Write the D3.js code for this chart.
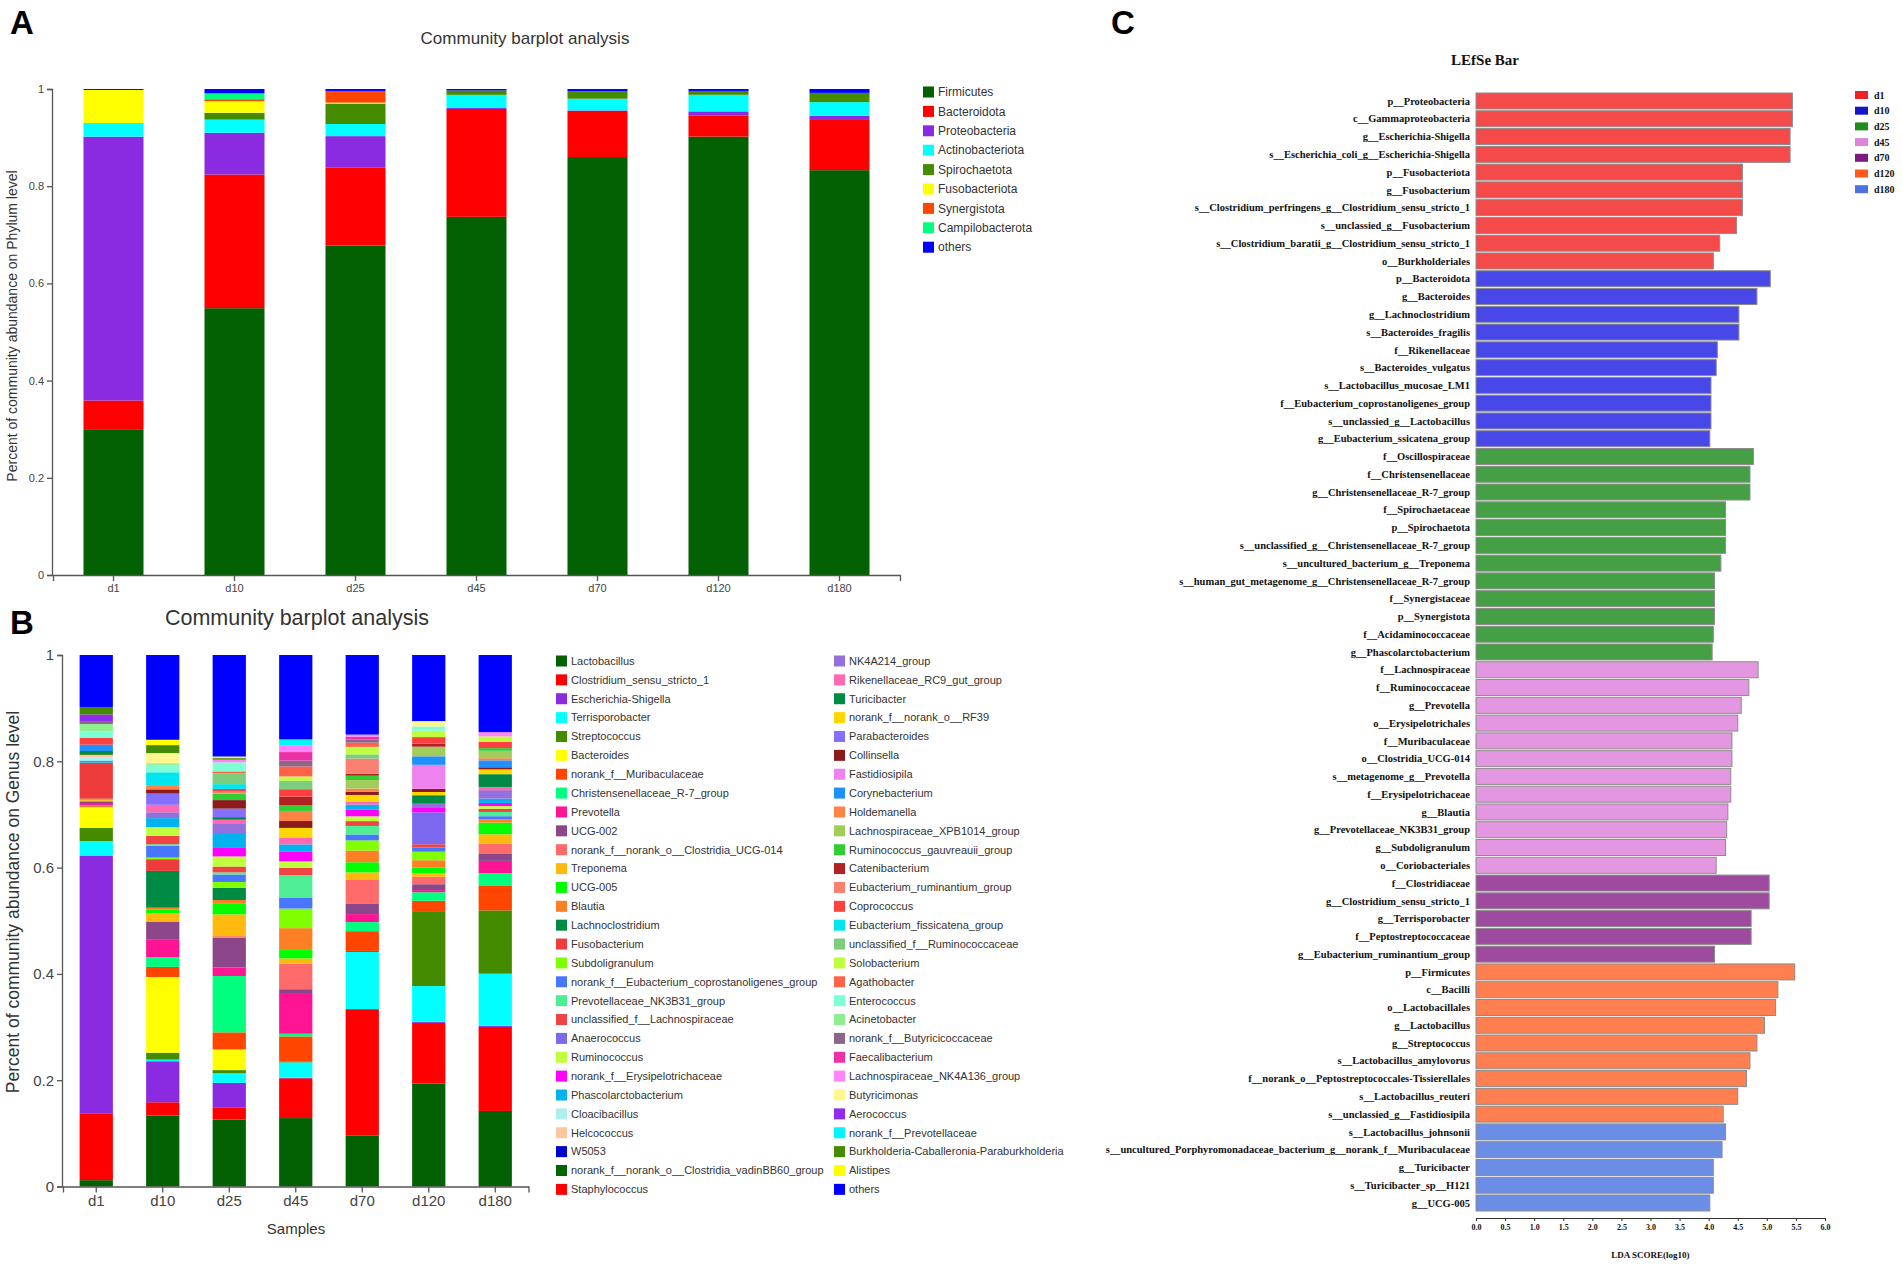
<!DOCTYPE html>
<html>
<head>
<meta charset="utf-8">
<script src="https://cdn.jsdelivr.net/npm/d3@7"></script>
<style>
  body { margin: 0; background: #fff; }
  svg { display: block; }
  .sans { font-family: "Liberation Sans", Arial, sans-serif; }
  .serif { font-family: "Liberation Serif", "Times New Roman", serif; font-weight: bold; }
</style>
</head>
<body>
<div id="chart"></div>
<script>
// ---------- shared ----------
const samples = ["d1", "d10", "d25", "d45", "d70", "d120", "d180"];

// ---------- panel A: phylum level ----------
const phyla = ["Firmicutes", "Bacteroidota", "Proteobacteria", "Actinobacteriota", "Spirochaetota",
  "Fusobacteriota", "Synergistota", "Campilobacterota", "others"];
const phylumColors = ["#036103", "#ff0000", "#8a2be2", "#00ffff", "#458b00",
  "#ffff00", "#ff4500", "#00ff7f", "#0000ff"];
const phylumD1   = [0.300, 0.059, 0.543, 0.028, 0.000, 0.068, 0.000, 0.000, 0.002];
const phylumD10  = [0.549, 0.275, 0.086, 0.027, 0.014, 0.024, 0.004, 0.012, 0.009];
const phylumD25  = [0.678, 0.160, 0.065, 0.025, 0.042, 0.002, 0.024, 0.000, 0.004];
const phylumD45  = [0.737, 0.222, 0.002, 0.027, 0.009, 0.000, 0.000, 0.000, 0.003];
const phylumD70  = [0.860, 0.095, 0.001, 0.024, 0.015, 0.000, 0.000, 0.000, 0.005];
const phylumD120 = [0.902, 0.043, 0.009, 0.034, 0.008, 0.000, 0.000, 0.000, 0.004];
const phylumD180 = [0.833, 0.105, 0.007, 0.028, 0.019, 0.000, 0.000, 0.000, 0.008];
const phylumValues = [phylumD1, phylumD10, phylumD25, phylumD45, phylumD70, phylumD120, phylumD180];

// ---------- panel B: genus level ----------
const genera = ["Lactobacillus", "Clostridium_sensu_stricto_1", "Escherichia-Shigella", "Terrisporobacter",
  "Streptococcus", "Bacteroides", "norank_f__Muribaculaceae", "Christensenellaceae_R-7_group", "Prevotella",
  "UCG-002", "norank_f__norank_o__Clostridia_UCG-014", "Treponema", "UCG-005", "Blautia", "Lachnoclostridium",
  "Fusobacterium", "Subdoligranulum", "norank_f__Eubacterium_coprostanoligenes_group", "Prevotellaceae_NK3B31_group",
  "unclassified_f__Lachnospiraceae", "Anaerococcus", "Ruminococcus", "norank_f__Erysipelotrichaceae",
  "Phascolarctobacterium", "Cloacibacillus", "Helcococcus", "W5053", "norank_f__norank_o__Clostridia_vadinBB60_group",
  "Staphylococcus",
  "NK4A214_group", "Rikenellaceae_RC9_gut_group", "Turicibacter", "norank_f__norank_o__RF39", "Parabacteroides",
  "Collinsella", "Fastidiosipila", "Corynebacterium", "Holdemanella", "Lachnospiraceae_XPB1014_group",
  "Ruminococcus_gauvreauii_group", "Catenibacterium", "Eubacterium_ruminantium_group", "Coprococcus",
  "Eubacterium_fissicatena_group", "unclassified_f__Ruminococcaceae", "Solobacterium", "Agathobacter",
  "Enterococcus", "Acinetobacter", "norank_f__Butyricicoccaceae", "Faecalibacterium", "Lachnospiraceae_NK4A136_group",
  "Butyricimonas", "Aerococcus", "norank_f__Prevotellaceae", "Burkholderia-Caballeronia-Paraburkholderia",
  "Alistipes", "others"];
const genusColors = ["#036103", "#ff0000", "#8a2be2", "#00ffff", "#458b00", "#ffff00", "#ff4500", "#00ff7f",
  "#ff1493", "#8b4789", "#ff6a6a", "#ffb90f", "#00ff00", "#ff7f24", "#008b45", "#ee3b3b", "#7fff00", "#4876ff",
  "#4eee94", "#f04444", "#7b68ee", "#c0ff3e", "#ff00ff", "#00b2ee", "#aeeeee", "#ffc59e", "#0000cd", "#006400",
  "#ff0000",
  "#9370db", "#ff69b4", "#008b45", "#ffd700", "#8470ff", "#8b1a1a", "#ee82ee", "#1e90ff", "#ff8247", "#a2cd5a",
  "#32cd32", "#b22222", "#fa8072", "#ff4040", "#00e5ee", "#7ccd7c", "#bfff3f", "#ff6347", "#7fffd4", "#90ee90",
  "#8b668b", "#ee30a7", "#ff83fa", "#fff68f", "#912cee", "#00f5ff", "#458b00", "#ffff00", "#0000ff"];

//                 0      1      2      3      4      5      6      7      8      9
const genusD1   = [0.012, 0.126, 0.486, 0.027, 0.025, 0.039, 0.002, 0.002, 0.004, 0.002,
                   0.002, 0.002, 0.002, 0.000, 0.000, 0.068, 0.000, 0.000, 0.000, 0.000,
                   0.000, 0.000, 0.000, 0.004, 0.006, 0.005, 0.000, 0.003, 0.000, 0.000,
                   0.000, 0.004, 0.000, 0.000, 0.000, 0.000, 0.012, 0.000, 0.000, 0.000,
                   0.000, 0.000, 0.013, 0.000, 0.000, 0.000, 0.000, 0.012, 0.014, 0.004,
                   0.000, 0.000, 0.000, 0.014, 0.000, 0.014, 0.000, 0.098];
const genusD10  = [0.133, 0.025, 0.077, 0.003, 0.013, 0.142, 0.019, 0.018, 0.034, 0.033,
                   0.000, 0.015, 0.008, 0.003, 0.069, 0.022, 0.003, 0.022, 0.003, 0.016,
                   0.000, 0.016, 0.000, 0.017, 0.000, 0.000, 0.000, 0.000, 0.000, 0.011,
                   0.014, 0.000, 0.000, 0.021, 0.008, 0.000, 0.000, 0.008, 0.000, 0.000,
                   0.000, 0.000, 0.000, 0.024, 0.000, 0.000, 0.000, 0.014, 0.003, 0.000,
                   0.000, 0.000, 0.019, 0.000, 0.000, 0.015, 0.010, 0.159];
const genusD25  = [0.126, 0.023, 0.046, 0.018, 0.006, 0.039, 0.032, 0.106, 0.016, 0.056,
                   0.003, 0.041, 0.021, 0.006, 0.023, 0.000, 0.011, 0.014, 0.004, 0.011,
                   0.000, 0.019, 0.016, 0.028, 0.000, 0.000, 0.000, 0.000, 0.000, 0.017,
                   0.008, 0.005, 0.000, 0.016, 0.016, 0.000, 0.000, 0.000, 0.000, 0.012,
                   0.000, 0.004, 0.005, 0.009, 0.020, 0.000, 0.004, 0.017, 0.000, 0.000,
                   0.000, 0.005, 0.000, 0.000, 0.000, 0.003, 0.003, 0.191];
const genusD45  = [0.129, 0.075, 0.001, 0.029, 0.002, 0.000, 0.047, 0.005, 0.075, 0.009,
                   0.048, 0.010, 0.016, 0.041, 0.000, 0.000, 0.037, 0.021, 0.042, 0.014,
                   0.000, 0.012, 0.018, 0.014, 0.000, 0.000, 0.000, 0.000, 0.000, 0.000,
                   0.013, 0.000, 0.018, 0.000, 0.013, 0.000, 0.000, 0.019, 0.000, 0.011,
                   0.016, 0.000, 0.014, 0.000, 0.016, 0.008, 0.019, 0.000, 0.000, 0.011,
                   0.016, 0.013, 0.000, 0.000, 0.011, 0.000, 0.000, 0.159];
const genusD70  = [0.095, 0.237, 0.000, 0.107, 0.002, 0.000, 0.037, 0.017, 0.015, 0.020,
                   0.045, 0.013, 0.019, 0.022, 0.000, 0.000, 0.019, 0.011, 0.016, 0.009,
                   0.000, 0.009, 0.013, 0.009, 0.000, 0.000, 0.000, 0.000, 0.000, 0.000,
                   0.005, 0.000, 0.013, 0.000, 0.006, 0.000, 0.000, 0.006, 0.016, 0.008,
                   0.004, 0.028, 0.000, 0.000, 0.008, 0.014, 0.008, 0.000, 0.000, 0.006,
                   0.005, 0.004, 0.000, 0.000, 0.000, 0.000, 0.000, 0.149];
const genusD120 = [0.193, 0.114, 0.002, 0.067, 0.139, 0.000, 0.021, 0.016, 0.004, 0.011,
                   0.014, 0.006, 0.011, 0.014, 0.000, 0.000, 0.016, 0.008, 0.000, 0.006,
                   0.060, 0.000, 0.008, 0.000, 0.000, 0.000, 0.000, 0.000, 0.000, 0.008,
                   0.000, 0.016, 0.006, 0.000, 0.006, 0.045, 0.016, 0.000, 0.018, 0.000,
                   0.006, 0.000, 0.012, 0.000, 0.000, 0.012, 0.000, 0.008, 0.000, 0.000,
                   0.000, 0.000, 0.010, 0.000, 0.000, 0.000, 0.000, 0.124];
const genusD180 = [0.142, 0.158, 0.002, 0.098, 0.119, 0.000, 0.047, 0.023, 0.023, 0.013,
                   0.019, 0.018, 0.022, 0.006, 0.000, 0.000, 0.000, 0.006, 0.008, 0.006,
                   0.000, 0.005, 0.006, 0.008, 0.000, 0.000, 0.000, 0.000, 0.000, 0.016,
                   0.006, 0.024, 0.009, 0.000, 0.004, 0.000, 0.013, 0.004, 0.014, 0.005,
                   0.000, 0.000, 0.012, 0.000, 0.000, 0.010, 0.000, 0.000, 0.000, 0.000,
                   0.000, 0.008, 0.000, 0.000, 0.000, 0.000, 0.000, 0.145];
const genusValues = [genusD1, genusD10, genusD25, genusD45, genusD70, genusD120, genusD180];

// ---------- panel C: LEfSe ----------
const lefseNames = [
  "p__Proteobacteria", "c__Gammaproteobacteria", "g__Escherichia-Shigella", "s__Escherichia_coli_g__Escherichia-Shigella",
  "p__Fusobacteriota", "g__Fusobacterium", "s__Clostridium_perfringens_g__Clostridium_sensu_stricto_1",
  "s__unclassied_g__Fusobacterium", "s__Clostridium_baratii_g__Clostridium_sensu_stricto_1", "o__Burkholderiales",
  "p__Bacteroidota", "g__Bacteroides", "g__Lachnoclostridium", "s__Bacteroides_fragilis", "f__Rikenellaceae",
  "s__Bacteroides_vulgatus", "s__Lactobacillus_mucosae_LM1", "f__Eubacterium_coprostanoligenes_group",
  "s__unclassied_g__Lactobacillus", "g__Eubacterium_ssicatena_group",
  "f__Oscillospiraceae", "f__Christensenellaceae", "g__Christensenellaceae_R-7_group", "f__Spirochaetaceae",
  "p__Spirochaetota", "s__unclassified_g__Christensenellaceae_R-7_group", "s__uncultured_bacterium_g__Treponema",
  "s__human_gut_metagenome_g__Christensenellaceae_R-7_group", "f__Synergistaceae", "p__Synergistota",
  "f__Acidaminococcaceae", "g__Phascolarctobacterium",
  "f__Lachnospiraceae", "f__Ruminococcaceae", "g__Prevotella", "o__Erysipelotrichales", "f__Muribaculaceae",
  "o__Clostridia_UCG-014", "s__metagenome_g__Prevotella", "f__Erysipelotrichaceae", "g__Blautia",
  "g__Prevotellaceae_NK3B31_group", "g__Subdoligranulum", "o__Coriobacteriales",
  "f__Clostridiaceae", "g__Clostridium_sensu_stricto_1", "g__Terrisporobacter", "f__Peptostreptococcaceae",
  "g__Eubacterium_ruminantium_group",
  "p__Firmicutes", "c__Bacilli", "o__Lactobacillales", "g__Lactobacillus", "g__Streptococcus",
  "s__Lactobacillus_amylovorus", "f__norank_o__Peptostreptococcales-Tissierellales", "s__Lactobacillus_reuteri",
  "s__unclassied_g__Fastidiosipila",
  "s__Lactobacillus_johnsonii", "s__uncultured_Porphyromonadaceae_bacterium_g__norank_f__Muribaculaceae",
  "g__Turicibacter", "s__Turicibacter_sp__H121", "g__UCG-005"];
const lefseScores = [
  5.44, 5.44, 5.40, 5.40, 4.58, 4.58, 4.58, 4.48, 4.19, 4.08,
  5.06, 4.83, 4.52, 4.52, 4.15, 4.13, 4.04, 4.04, 4.04, 4.02,
  4.77, 4.71, 4.71, 4.29, 4.29, 4.29, 4.21, 4.10, 4.10, 4.10, 4.08, 4.06,
  4.85, 4.69, 4.56, 4.50, 4.40, 4.40, 4.38, 4.38, 4.33, 4.31, 4.29, 4.13,
  5.04, 5.04, 4.73, 4.73, 4.10,
  5.48, 5.19, 5.15, 4.96, 4.83, 4.71, 4.65, 4.50, 4.25,
  4.29, 4.23, 4.08, 4.08, 4.02];
const lefseGroupSizes = [10, 10, 12, 12, 5, 9, 5];
const lefseBarColors = ["#f44a4a", "#4848e8", "#45a045", "#e397e0", "#9e4a9e", "#ff7f50", "#6b8de6"];
const lefseLegendColors = ["#ee2222", "#1515c8", "#1f8c1f", "#dc85dc", "#7d1a7d", "#ff5a1a", "#4a72e0"];

// ---------- svg ----------
const W = 1902, H = 1269;
const svg = d3.select("#chart").append("svg").attr("width", W).attr("height", H);

function toRows(values, keys) {
  return samples.map((s, i) => {
    const r = { sample: s };
    keys.forEach((k, j) => { r[k] = values[i][j]; });
    return r;
  });
}

function stackedPanel(opt) {
  const g = svg.append("g").attr("class", "sans");
  const rows = toRows(opt.values, opt.keys);
  const series = d3.stack().keys(opt.keys).offset(d3.stackOffsetExpand)(rows);
  const color = d3.scaleOrdinal().domain(opt.keys).range(opt.colors);

  const x = d3.scaleBand().domain(samples).range(opt.xRange)
    .paddingInner(opt.padIn).paddingOuter(opt.padIn / 2);
  const y = d3.scaleLinear().domain([0, 1]).range(opt.yRange);

  g.selectAll("g.layer").data(series).join("g")
    .attr("class", "layer")
    .attr("fill", d => color(d.key))
    .selectAll("rect").data(d => d).join("rect")
    .attr("x", d => x(d.data.sample))
    .attr("y", d => y(d[1]))
    .attr("width", x.bandwidth())
    .attr("height", d => Math.max(0, y(d[0]) - y(d[1])));

  const xa = g.append("g").attr("transform", `translate(0,${opt.yRange[0]})`)
    .call(d3.axisBottom(x).tickSizeOuter(6));
  const ya = g.append("g").attr("transform", `translate(${opt.xRange[0] - 1},0)`)
    .call(d3.axisLeft(y).tickValues([0, 0.2, 0.4, 0.6, 0.8, 1]).tickFormat(d3.format("~g")).tickSize(5));
  [xa, ya].forEach(a => {
    a.selectAll("path,line").attr("stroke", "#555").attr("stroke-width", 1.3);
    a.selectAll("text").attr("fill", "#444").style("font-size", opt.tickFont + "px")
      .style("font-family", "'Liberation Sans', Arial, sans-serif");
  });

  g.append("text")
    .attr("transform", `translate(${opt.yLabelX},${opt.yLabelY}) rotate(-90)`)
    .attr("text-anchor", "middle").attr("fill", "#333")
    .style("font-size", opt.yLabelFont + "px").text(opt.yLabel);

  g.append("text").attr("x", opt.titleX).attr("y", opt.titleY)
    .attr("text-anchor", "middle").attr("fill", "#333")
    .style("font-size", opt.titleFont + "px").text("Community barplot analysis");
  return g;
}

// ---------- panel A ----------
const gA = stackedPanel({
  keys: phyla, colors: phylumColors, values: phylumValues,
  xRange: [53, 900], yRange: [575, 89], padIn: 0.504, tickFont: 11,
  yLabel: "Percent of community abundance on Phylum level", yLabelX: 17, yLabelY: 326, yLabelFont: 14,
  titleX: 525, titleY: 44, titleFont: 17
});

const legA = gA.append("g");
phyla.forEach((p, i) => {
  const yy = 92 + i * 19.4;
  legA.append("rect").attr("x", 923).attr("y", yy - 5.5).attr("width", 11).attr("height", 11).attr("fill", phylumColors[i]);
  legA.append("text").attr("x", 938).attr("y", yy).attr("dy", "0.35em").attr("fill", "#333")
    .style("font-size", "12px").text(p);
});

// ---------- panel B ----------
const gB = stackedPanel({
  keys: genera, colors: genusColors, values: genusValues,
  xRange: [63, 528.5], yRange: [1186.5, 655], padIn: 0.5, tickFont: 15,
  yLabel: "Percent of community abundance on Genus level", yLabelX: 19, yLabelY: 902, yLabelFont: 17.5,
  titleX: 297, titleY: 625, titleFont: 21.5
});
gB.append("text").attr("x", 296).attr("y", 1234).attr("text-anchor", "middle").attr("fill", "#333")
  .style("font-size", "15px").text("Samples");

const legB = gB.append("g");
genera.forEach((name, i) => {
  const col = i < 29 ? 0 : 1;
  const row = i < 29 ? i : i - 29;
  const xx = col === 0 ? 556 : 834;
  const yy = 661 + row * 18.87;
  legB.append("rect").attr("x", xx).attr("y", yy - 5.5).attr("width", 11).attr("height", 11).attr("fill", genusColors[i]);
  legB.append("text").attr("x", xx + 15).attr("y", yy).attr("dy", "0.35em").attr("fill", "#333")
    .style("font-size", "11px").text(name);
});

// ---------- panel C ----------
const gC = svg.append("g").attr("class", "serif");
const lefseGroup = [];
lefseGroupSizes.forEach((n, gi) => { for (let k = 0; k < n; k++) lefseGroup.push(gi); });

const xC = d3.scaleLinear().domain([0, 6]).range([1476, 1825]);
const yC = d3.scaleBand().domain(d3.range(lefseNames.length)).range([93, 1211]).paddingInner(0.1);

gC.selectAll("rect.bar").data(lefseScores).join("rect")
  .attr("class", "bar")
  .attr("x", xC(0))
  .attr("y", (d, i) => yC(i))
  .attr("width", d => xC(d) - xC(0))
  .attr("height", yC.bandwidth())
  .attr("fill", (d, i) => lefseBarColors[lefseGroup[i]])
  .attr("stroke", "#8c8c8c").attr("stroke-width", 1);

gC.selectAll("text.lab").data(lefseNames).join("text")
  .attr("class", "lab")
  .attr("x", xC(0) - 6)
  .attr("y", (d, i) => yC(i) + yC.bandwidth() / 2)
  .attr("dy", "0.35em").attr("text-anchor", "end").attr("fill", "#111")
  .style("font-size", "10.5px").text(d => d);

const xaC = gC.append("g").attr("transform", "translate(0,1218)")
  .call(d3.axisBottom(xC).tickValues(d3.range(0, 6.01, 0.5)).tickFormat(d3.format(".1f")).tickSize(3));
xaC.selectAll("path,line").attr("stroke", "#333");
xaC.selectAll("text").attr("fill", "#111").style("font-size", "8px")
  .style("font-family", "'Liberation Serif', 'Times New Roman', serif").style("font-weight", "bold");

gC.append("text").attr("x", (xC(0) + xC(6)) / 2).attr("y", 1258).attr("text-anchor", "middle")
  .attr("fill", "#111").style("font-size", "9px").text("LDA SCORE(log10)");

gC.append("text").attr("x", 1485).attr("y", 65).attr("text-anchor", "middle")
  .attr("fill", "#111").style("font-size", "15px").text("LEfSe Bar");

samples.forEach((s, i) => {
  const yy = 95 + i * 15.7;
  gC.append("rect").attr("x", 1855).attr("y", yy - 4).attr("width", 13).attr("height", 8).attr("fill", lefseLegendColors[i]);
  gC.append("text").attr("x", 1874).attr("y", yy).attr("dy", "0.35em").attr("fill", "#111")
    .style("font-size", "10px").text(s);
});

// ---------- panel letters ----------
[["A", 10, 34], ["B", 10, 634], ["C", 1111, 34]].forEach(([t, x, y]) => {
  svg.append("text").attr("x", x).attr("y", y).attr("class", "sans")
    .style("font-size", "33px").style("font-weight", "bold").attr("fill", "#000").text(t);
});
</script>
</body>
</html>
